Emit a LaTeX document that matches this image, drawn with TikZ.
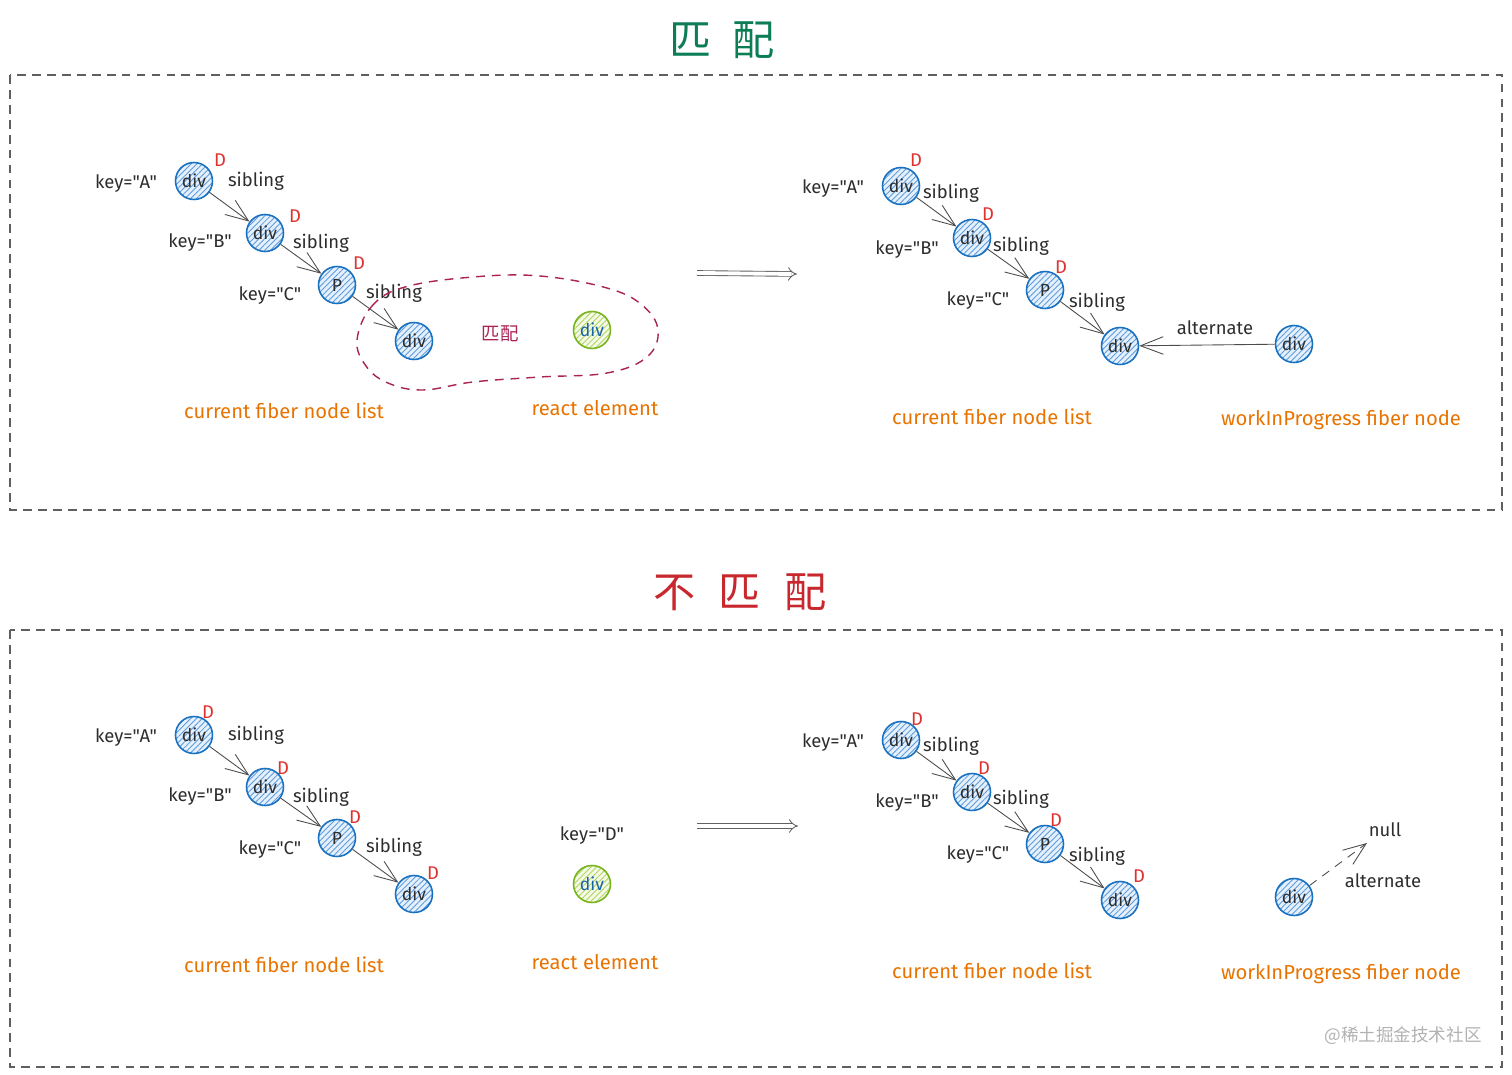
\documentclass[tikz,border=0pt]{standalone}
\usepackage{fontspec}
\setmainfont{Fira Sans}[Ligatures=TeXOff]
\newfontfamily\cjk{Noto Sans CJK SC}
\usetikzlibrary{arrows.meta,patterns.meta}
\definecolor{fb}{RGB}{25,113,194}
\definecolor{fbh}{RGB}{95,155,220}
\definecolor{fbf}{RGB}{228,240,252}
\definecolor{gb}{RGB}{120,180,30}
\definecolor{gbh}{RGB}{175,212,95}
\definecolor{gbf}{RGB}{244,250,230}
\definecolor{dtext}{RGB}{24,100,171}
\definecolor{dred}{RGB}{224,49,49}
\definecolor{org}{RGB}{232,115,0}
\definecolor{tgreen}{RGB}{12,125,85}
\definecolor{tred}{RGB}{200,40,45}
\definecolor{blob}{RGB}{170,35,85}
\definecolor{ink}{RGB}{45,45,45}
\definecolor{framec}{RGB}{95,95,95}
\tikzset{
  fib/.style={circle, draw=fb, line width=0.9pt, minimum size=0.74cm, inner sep=0pt,
    preaction={fill=fbf}, pattern={Lines[angle=45,distance=2.3pt,line width=0.5pt]},
    pattern color=fbh, font=\fontsize{10}{12}\selectfont, text=ink},
  relem/.style={circle, draw=gb, line width=0.9pt, minimum size=0.74cm, inner sep=0pt,
    preaction={fill=gbf}, pattern={Lines[angle=45,distance=2.3pt,line width=0.5pt]},
    pattern color=gbh, font=\fontsize{10}{12}\selectfont, text=dtext},
  keylbl/.style={font=\fontsize{10.5}{12}\selectfont, text=ink, inner sep=1pt},
  dlbl/.style={font=\fontsize{10.5}{12}\selectfont, text=dred, inner sep=1pt},
  captxt/.style={font=\fontsize{11.5}{13}\selectfont, text=org, inner sep=1pt},
  arr/.style={draw=ink!85, line width=0.5pt, -{Straight Barb[length=13pt,width=10pt]}},
  framebox/.style={draw=framec, dash pattern=on 5pt off 3.5pt, line width=0.6pt},
  bigarr/.style={draw=ink!75, double=white, double distance=2.2pt, line width=0.5pt, -{Implies[length=13pt,width=15pt]}},
}
\begin{document}
\begin{tikzpicture}[x=0.02cm,y=-0.02cm]
\useasboundingbox (0,0) rectangle (1512,1075);

% ================= TOP =================
\node[text=tgreen, font=\cjk\fontsize{24}{26}\selectfont] (t1) at (722,40) {匹\hspace{0.5em}配};
\draw[framebox] (10,75) rectangle (1502,510);

% left chain
\node[fib] (a1) at (194,181) {div};
\node[fib] (b1) at (265,233) {div};
\node[fib] (c1) at (337,285) {P};
\node[fib] (e1) at (414,341) {div};
\node[keylbl] (ka1) at (126,184) {key="A"};
\node[keylbl] (kb1) at (200,243) {key="B"};
\node[keylbl] (kc1) at (270,296) {key="C"};
\node[dlbl] (da1) at (220,160) {D};
\node[dlbl] (db1) at (295,216) {D};
\node[dlbl] (dc1) at (359,263) {D};
\node[keylbl] (sa1) at (256,181) {sibling};
\node[keylbl] (sb1) at (321,243) {sibling};
\node[keylbl] (sc1) at (394,293) {sibling};
\draw[arr] (a1) -- (b1);
\draw[arr] (b1) -- (c1);
\draw[arr] (c1) -- (e1);
\draw[blob, dash pattern=on 5pt off 4pt, line width=0.8pt] plot[smooth cycle, tension=0.65] coordinates
  {(357,340) (372,306) (405,287) (473,277) (540,276) (607,288) (642,305) (658,330)
   (647,357) (607,373) (540,377) (473,382) (423,390) (388,383) (366,366)};
\node[text=blob, font=\cjk\fontsize{10.5}{12}\selectfont] (m1) at (500,334) {匹配};
\node[relem] (r1) at (592,330) {div};
\node[captxt] (cl1) at (284,411) {current fiber node list};
\node[captxt] (re1) at (595,408) {react element};

\coordinate (ba1) at (697,273);
\coordinate (ba2) at (797,274);
\draw[bigarr] (ba1) -- (ba2);

% right chain
\node[fib] (a2) at (901,186) {div};
\node[fib] (b2) at (972,238) {div};
\node[fib] (c2) at (1045,290) {P};
\node[fib] (e2) at (1120,346) {div};
\node[fib] (w2) at (1294,344) {div};
\node[keylbl] (ka2) at (833,189) {key="A"};
\node[keylbl] (kb2) at (907,250) {key="B"};
\node[keylbl] (kc2) at (978,301) {key="C"};
\node[dlbl] (da2) at (916,160) {D};
\node[dlbl] (db2) at (988,214) {D};
\node[dlbl] (dc2) at (1061,267) {D};
\node[keylbl] (sa2) at (951,193) {sibling};
\node[keylbl] (sb2) at (1021,246) {sibling};
\node[keylbl] (sc2) at (1097,302) {sibling};
\draw[arr] (a2) -- (b2);
\draw[arr] (b2) -- (c2);
\draw[arr] (c2) -- (e2);
\draw[arr] (w2) -- (e2);
\node[keylbl] (al2) at (1215,328) {alternate};
\node[captxt] (cl2) at (992,417) {current fiber node list};
\node[captxt] (wp2) at (1341,420) {workInProgress fiber node};

% ================= BOTTOM =================
\node[text=tred, font=\cjk\fontsize{24}{26}\selectfont] (t2) at (740,592) {不\hspace{0.55em}匹\hspace{0.55em}配};
\draw[framebox] (10,630) rectangle (1502,1067);

% left chain
\node[fib] (a3) at (194,735) {div};
\node[fib] (b3) at (265,787) {div};
\node[fib] (c3) at (337,838) {P};
\node[fib] (e3) at (414,894) {div};
\node[keylbl] (ka3) at (126,738) {key="A"};
\node[keylbl] (kb3) at (200,797) {key="B"};
\node[keylbl] (kc3) at (270,850) {key="C"};
\node[dlbl] (da3) at (208,712) {D};
\node[dlbl] (db3) at (283,768) {D};
\node[dlbl] (dc3) at (355,817) {D};
\node[dlbl] (de3) at (433,873) {D};
\node[keylbl] (sa3) at (256,735) {sibling};
\node[keylbl] (sb3) at (321,797) {sibling};
\node[keylbl] (sc3) at (394,847) {sibling};
\draw[arr] (a3) -- (b3);
\draw[arr] (b3) -- (c3);
\draw[arr] (c3) -- (e3);
\node[keylbl] (kd3) at (592,836) {key="D"};
\node[relem] (r3) at (592,884) {div};
\node[captxt] (cl3) at (284,965) {current fiber node list};
\node[captxt] (re3) at (595,962) {react element};

\coordinate (bb1) at (697,826);
\coordinate (bb2) at (798,826);
\draw[bigarr] (bb1) -- (bb2);

% right chain
\node[fib] (a4) at (901,740) {div};
\node[fib] (b4) at (972,792) {div};
\node[fib] (c4) at (1045,844) {P};
\node[fib] (e4) at (1120,900) {div};
\node[fib] (w4) at (1294,897) {div};
\node[keylbl] (ka4) at (833,743) {key="A"};
\node[keylbl] (kb4) at (907,803) {key="B"};
\node[keylbl] (kc4) at (978,855) {key="C"};
\node[dlbl] (da4) at (917,719) {D};
\node[dlbl] (db4) at (984,768) {D};
\node[dlbl] (dc4) at (1056,820) {D};
\node[dlbl] (de4) at (1139,876) {D};
\node[keylbl] (sa4) at (951,746) {sibling};
\node[keylbl] (sb4) at (1021,799) {sibling};
\node[keylbl] (sc4) at (1097,856) {sibling};
\draw[arr] (a4) -- (b4);
\draw[arr] (b4) -- (c4);
\draw[arr] (c4) -- (e4);
\coordinate (nl4) at (1367,843);
\draw[arr, dash pattern=on 5pt off 4pt] (w4) -- (nl4);
\node[keylbl] (nu4) at (1385,830) {null};
\node[keylbl] (al4) at (1383,881) {alternate};
\node[captxt] (cl4) at (992,971) {current fiber node list};
\node[captxt] (wp4) at (1341,974) {workInProgress fiber node};

\node[text=black!30, font=\cjk\fontsize{10}{12}\selectfont] (wm) at (1403,1036) {@稀土掘金技术社区};
\end{tikzpicture}
\end{document}
